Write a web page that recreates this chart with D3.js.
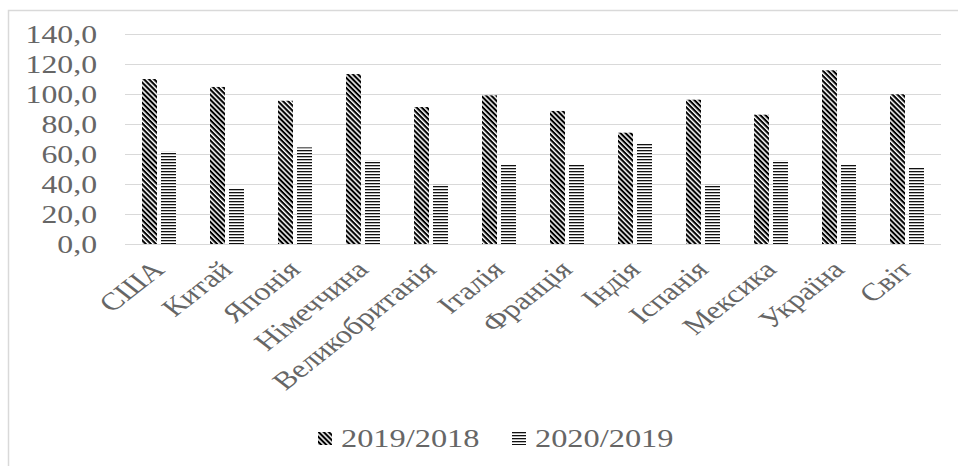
<!DOCTYPE html>
<html><head><meta charset="utf-8">
<script src="https://cdn.jsdelivr.net/npm/d3@7"></script>
<style>body{margin:0;background:#fff;} svg{display:block;}</style>
</head><body>
<svg id="c" width="958" height="466"></svg>
<script>
const categories = ["США","Китай","Японія","Німеччина","Великобританія","Італія","Франція","Індія","Іспанія","Мексика","Україна","Світ"];
const series2019 = [110.0,104.7,95.5,113.3,91.3,99.1,88.7,74.2,96.2,86.2,115.8,99.8];
const series2020 = [61.5,37.1,64.4,55.5,39.8,53.1,53.1,66.7,39.8,55.5,53.1,50.7];
const seriesNames = ["2019/2018","2020/2019"];
const yTicks = [0,20,40,60,80,100,120,140];

const svg = d3.select("#c");
const SX = 1.27;
const font = "'Liberation Serif','Times New Roman',serif";
const txtColor = "#666666";

const defs = svg.append("defs");
const p1 = defs.append("pattern").attr("id","diag").attr("patternUnits","userSpaceOnUse")
  .attr("width",3.6).attr("height",3.6).attr("patternTransform","rotate(45)");
p1.append("rect").attr("width",3.6).attr("height",3.6).attr("fill","#fff");
p1.append("rect").attr("width",3.6).attr("height",2.1).attr("fill","#000");
const p2 = defs.append("pattern").attr("id","horiz").attr("patternUnits","userSpaceOnUse")
  .attr("width",4).attr("height",3);
p2.append("rect").attr("width",4).attr("height",3).attr("fill","#fff");
p2.append("rect").attr("width",4).attr("height",1.3).attr("fill","#111");
const fills = ["url(#diag)","url(#horiz)"];

// outer border
svg.append("rect").attr("x",8.5).attr("y",10.5).attr("width",980).attr("height",480)
  .attr("fill","none").attr("stroke","#d9d9d9").attr("stroke-width",1.5);

const x0 = d3.scaleBand().domain(categories).range([125,941]).paddingInner(0).paddingOuter(0);
const y = d3.scaleLinear().domain([0,140]).range([244,34]);
const x1 = d3.scaleBand().domain(seriesNames).range([-17, 17]).paddingInner(4/19);

// gridlines
svg.append("g").selectAll("line").data(yTicks).join("line")
  .attr("x1",125).attr("x2",941).attr("y1",d=>Math.round(y(d))+0.5).attr("y2",d=>Math.round(y(d))+0.5)
  .attr("stroke","#d9d9d9").attr("stroke-width",1.2);

// y labels
svg.append("g").selectAll("text").data(yTicks).join("text")
  .attr("transform",d=>`translate(97,${y(d)}) scale(${SX},1)`)
  .attr("dy","0.35em").attr("text-anchor","end")
  .attr("font-family",font).attr("font-size",25).attr("fill",txtColor)
  .text(d=>d.toFixed(1).replace(".",","));

// bars
const data = [series2019, series2020];
const g = svg.append("g");
categories.forEach((c,i)=>{
  seriesNames.forEach((s,k)=>{
    const cx = x0(c) + x0.bandwidth()/2;
    g.append("rect")
      .attr("x", cx + x1(s)).attr("width", x1.bandwidth())
      .attr("y", y(data[k][i])).attr("height", y(0)-y(data[k][i]))
      .attr("fill", fills[k]);
  });
});

// x labels
svg.append("g").selectAll("text").data(categories).join("text")
  .attr("transform",d=>`translate(${x0(d)+x0.bandwidth()/2-1},${265}) scale(${SX},1) rotate(-45)`)
  .attr("text-anchor","end").attr("dy","0.35em")
  .attr("font-family",font).attr("font-size",25).attr("fill",txtColor)
  .text(d=>d);

// legend
const legX = [318, 512];
seriesNames.forEach((s,k)=>{
  svg.append("rect").attr("x",legX[k]).attr("y",432).attr("width",14).attr("height",13).attr("fill",fills[k]);
  svg.append("text").attr("transform",`translate(${legX[k]+23},447) scale(${SX},1)`)
    .attr("font-family",font).attr("font-size",25.5).attr("fill",txtColor).text(s);
});
</script>
</body></html>
